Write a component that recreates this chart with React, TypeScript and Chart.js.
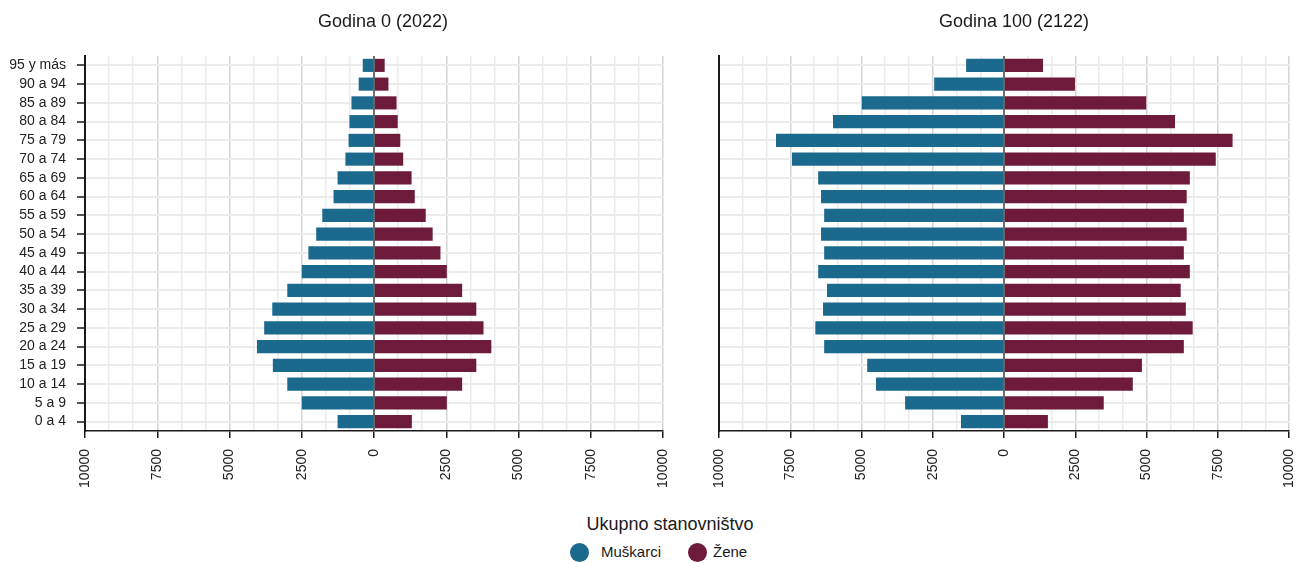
import React, { useEffect, useRef } from "react";
import { Chart, registerables } from "chart.js";

Chart.register(...registerables);

const ageGroups = [
  "0 a 4", "5 a 9", "10 a 14", "15 a 19", "20 a 24", "25 a 29", "30 a 34",
  "35 a 39", "40 a 44", "45 a 49", "50 a 54", "55 a 59", "60 a 64", "65 a 69",
  "70 a 74", "75 a 79", "80 a 84", "85 a 89", "90 a 94", "95 y más",
];

const men2022 = [1260, 2500, 3000, 3500, 4050, 3800, 3520, 3000, 2500, 2270, 2000, 1790, 1400, 1260, 990, 880, 850, 780, 530, 390];
const women2022 = [1310, 2520, 3050, 3540, 4060, 3790, 3540, 3050, 2520, 2300, 2030, 1790, 1410, 1300, 1010, 910, 820, 780, 500, 370];
const men2122 = [1510, 3470, 4490, 4800, 6310, 6620, 6350, 6210, 6520, 6310, 6420, 6310, 6420, 6520, 7440, 8000, 6000, 4990, 2450, 1330];
const women2122 = [1540, 3500, 4520, 4840, 6310, 6620, 6380, 6200, 6520, 6310, 6410, 6310, 6410, 6520, 7430, 8020, 6000, 4990, 2490, 1370];

const majorTicks = [-10000, -7500, -5000, -2500, 0, 2500, 5000, 7500, 10000];

const panelTitles = ["Godina 0 (2022)", "Godina 100 (2122)"];
const seriesNames = ["Muškarci", "Žene"];
const legendTitle = "Ukupno stanovništvo";

const BLUE = "#1b6a8e";
const RED = "#6e1b3b";
const FONT = "'Liberation Sans', Arial, Helvetica, sans-serif";

const gridTicks: number[] = (() => {
  const out: number[] = [];
  for (let i = 0; i < majorTicks.length; i++) {
    out.push(majorTicks[i]);
    if (i < majorTicks.length - 1) {
      const a = majorTicks[i];
      const b = majorTicks[i + 1];
      out.push(a + (b - a) / 3, a + (2 * (b - a)) / 3);
    }
  }
  return out;
})();

const isMajor = (v: number) => majorTicks.some((m) => Math.abs(m - v) < 1e-6);

const zeroLine = {
  id: "zeroLine",
  afterDatasetsDraw(chart: any) {
    const { ctx, chartArea, scales } = chart;
    const x = scales.x.getPixelForValue(0);
    ctx.save();
    ctx.strokeStyle = "#4a4a4a";
    ctx.lineWidth = 1.5;
    ctx.beginPath();
    ctx.moveTo(x, chartArea.top);
    ctx.lineTo(x, chartArea.bottom);
    ctx.stroke();
    ctx.restore();
  },
};

function makeConfig(men: number[], women: number[], showY: boolean, yWidth: number, padRight: number): any {
  return {
    type: "bar",
    data: {
      labels: ageGroups,
      datasets: [
        {
          label: seriesNames[0],
          data: men.map((v) => -v),
          backgroundColor: BLUE,
          barPercentage: 0.7,
          categoryPercentage: 1,
        },
        {
          label: seriesNames[1],
          data: women,
          backgroundColor: RED,
          barPercentage: 0.7,
          categoryPercentage: 1,
        },
      ],
    },
    options: {
      indexAxis: "y",
      responsive: false,
      animation: false,
      layout: { padding: { top: 56, right: padRight, left: 0, bottom: 0 } },
      plugins: {
        legend: { display: false },
        tooltip: { enabled: false },
        title: { display: false },
      },
      scales: {
        x: {
          type: "linear",
          stacked: true,
          min: -10000,
          max: 10000,
          afterBuildTicks: (s: any) => {
            s.ticks = gridTicks.map((v) => ({ value: v }));
          },
          afterFit: (s: any) => {
            s.height = 69;
            s.paddingLeft = 0;
            s.paddingRight = 0;
          },
          border: { display: true, color: "#1a1a1a", width: 1.5 },
          grid: {
            color: (c: any) => (c.tick && isMajor(c.tick.value) ? "#d4d4d4" : "#ebebeb"),
            lineWidth: 1.5,
            drawTicks: true,
            tickLength: 7,
            tickWidth: 1.5,
            tickColor: (c: any) => (c.tick && isMajor(c.tick.value) ? "#1a1a1a" : "rgba(0,0,0,0)"),
          },
          ticks: {
            autoSkip: false,
            minRotation: 90,
            maxRotation: 90,
            padding: 11,
            color: "#222222",
            font: { family: FONT, size: 14 },
            callback: (v: any) => (isMajor(Number(v)) ? String(Math.abs(Number(v))) : ""),
          },
        },
        y: {
          type: "category",
          stacked: true,
          reverse: true,
          offset: true,
          afterFit: (s: any) => {
            s.width = yWidth;
            s.paddingTop = 0;
            s.paddingBottom = 0;
          },
          border: { display: true, color: "#1a1a1a", width: 2 },
          grid: {
            offset: false,
            color: "#ebebeb",
            lineWidth: 2,
            drawTicks: showY,
            tickLength: 8,
            tickWidth: 1.5,
            tickColor: "#1a1a1a",
          },
          ticks: {
            display: showY,
            autoSkip: false,
            padding: 11,
            color: "#222222",
            font: { family: FONT, size: 14 },
          },
        },
      },
    },
    plugins: [zeroLine],
  };
}

function Panel(props: { men: number[]; women: number[]; showY: boolean; left: number; width: number; yWidth: number; padRight: number }) {
  const ref = useRef<HTMLCanvasElement | null>(null);
  useEffect(() => {
    if (!ref.current) return;
    const chart = new Chart(ref.current, makeConfig(props.men, props.women, props.showY, props.yWidth, props.padRight));
    return () => chart.destroy();
  }, []);
  return (
    <canvas
      ref={ref}
      width={props.width}
      height={500}
      style={{ position: "absolute", left: props.left, top: 0, width: props.width, height: 500 }}
    />
  );
}

const textBase: React.CSSProperties = {
  position: "absolute",
  fontFamily: FONT,
  color: "#1a1a1a",
  whiteSpace: "nowrap",
};

export default function App() {
  return (
    <div style={{ position: "absolute", left: 0, top: 0, width: 1300, height: 563, background: "#ffffff", overflow: "hidden" }}>
      <Panel men={men2022} women={women2022} showY={true} left={0} width={680} yWidth={85} padRight={17} />
      <Panel men={men2122} women={women2122} showY={false} left={690} width={610} yWidth={29} padRight={11} />

      <div style={{ ...textBase, left: 383, top: 11, fontSize: 18, lineHeight: "20px", transform: "translateX(-50%)" }}>
        {panelTitles[0]}
      </div>
      <div style={{ ...textBase, left: 1014, top: 11, fontSize: 18, lineHeight: "20px", transform: "translateX(-50%)" }}>
        {panelTitles[1]}
      </div>

      <div style={{ ...textBase, left: 670, top: 514, fontSize: 18, lineHeight: "20px", transform: "translateX(-50%)" }}>
        {legendTitle}
      </div>
      <div style={{ position: "absolute", left: 569.5, top: 542.5, width: 19, height: 19, borderRadius: "50%", background: BLUE }} />
      <div style={{ ...textBase, left: 601, top: 543, fontSize: 15, lineHeight: "18px" }}>{seriesNames[0]}</div>
      <div style={{ position: "absolute", left: 687.5, top: 542.5, width: 19, height: 19, borderRadius: "50%", background: RED }} />
      <div style={{ ...textBase, left: 713, top: 543, fontSize: 15, lineHeight: "18px" }}>{seriesNames[1]}</div>
    </div>
  );
}
